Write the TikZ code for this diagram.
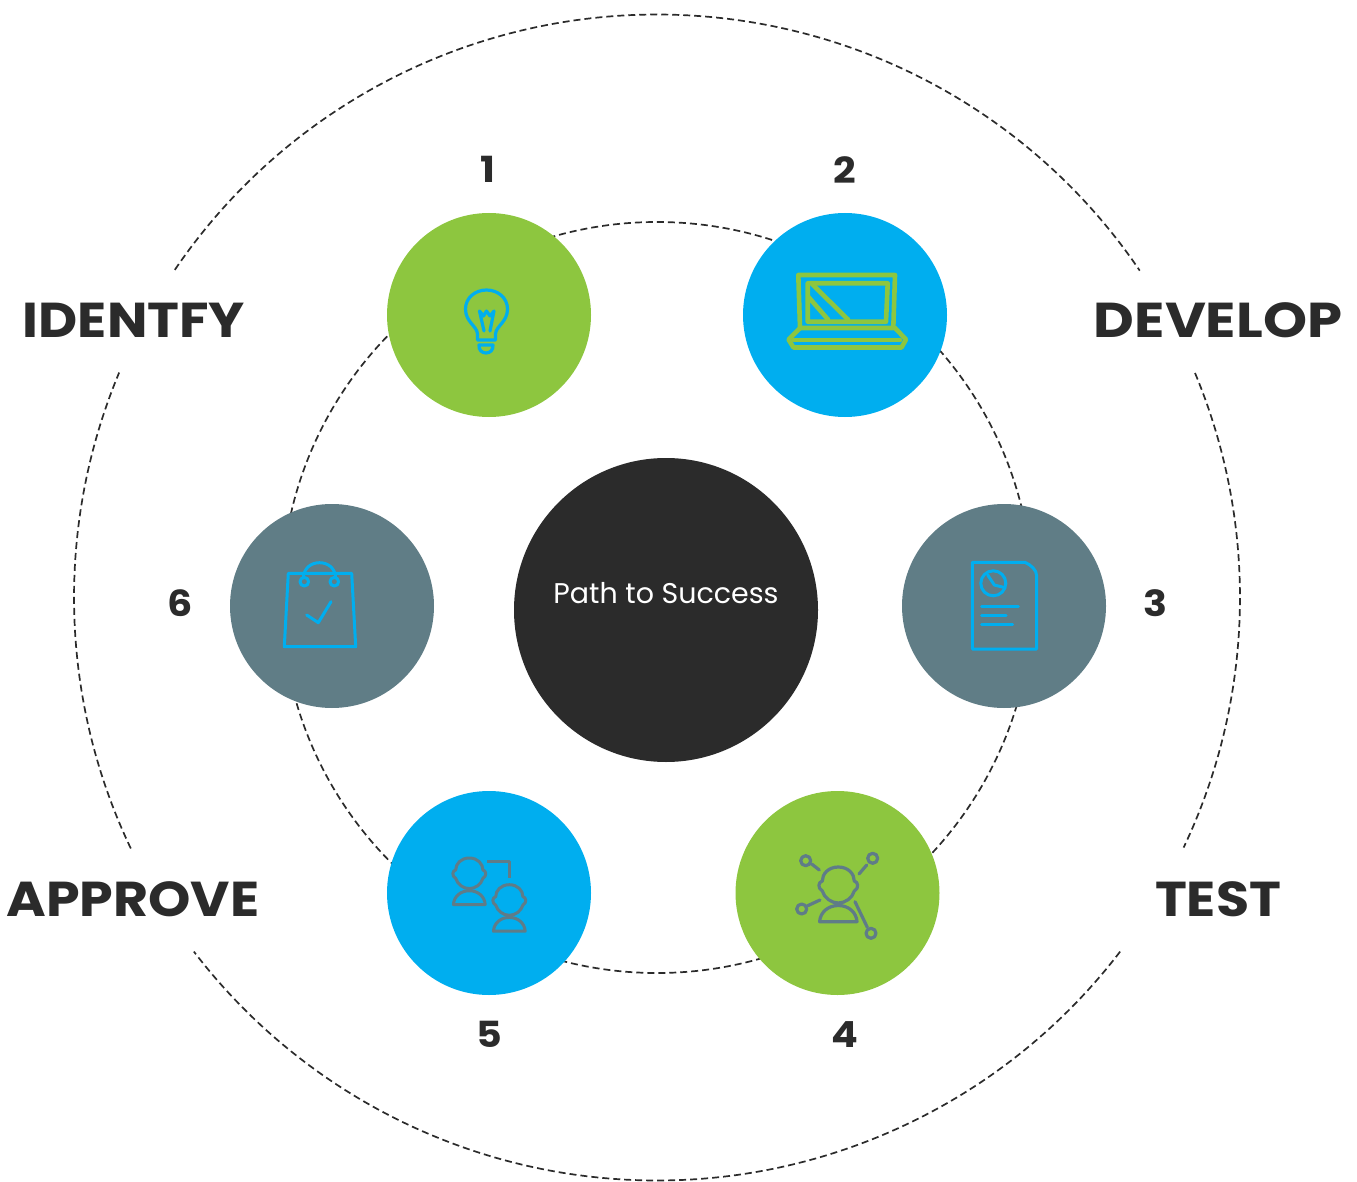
\documentclass[tikz,border=0pt]{standalone}
\usepackage{fontspec}
\setmainfont{Poppins}
\newfontfamily\widefont[FakeStretch=1.1]{Poppins}
\definecolor{cgreen}{HTML}{8DC63F}
\definecolor{cblue}{HTML}{00AEEF}
\definecolor{cslate}{HTML}{607D86}
\definecolor{cdark}{HTML}{2B2B2B}
\definecolor{cicon}{HTML}{5F7C88}
\tikzset{
  ring/.style={draw=cdark,line width=1.7pt,dash pattern=on 7pt off 4pt},
  disc/.style={circle,minimum size=204pt,inner sep=0pt,draw=none},
  phase/.style={anchor=base,inner sep=0pt,text=cdark,font=\widefont\fontsize{49}{49}\selectfont\bfseries},
  num/.style={anchor=base,inner sep=0pt,text=cdark,font=\widefont\fontsize{36}{36}\selectfont\bfseries},
  ico/.style={line width=3pt,line join=round,line cap=round},
  personicon/.pic={
    \draw (0,-18) .. controls (10,-18) and (16,-11) .. (16,-4)
      .. controls (20,-3) and (21,3) .. (16,6)
      .. controls (14,13) and (7,18) .. (0,18)
      .. controls (-7,18) and (-14,13) .. (-16,6)
      .. controls (-21,3) and (-20,-3) .. (-16,-4)
      .. controls (-16,-11) and (-10,-18) .. (0,-18) -- cycle;
    \draw (-18.7,36.7) -- (18.7,36.7) .. controls (18,27) and (10,20.5) .. (0,20.5)
      .. controls (-10,20.5) and (-18,27) .. (-18.7,36.7) -- cycle;
  }
}
\begin{document}
\begin{tikzpicture}[x=1pt,y=-1pt]
\useasboundingbox (0,0) rectangle (1357,1182);
\coordinate (c) at (657,597.5);
% outer dashed ring, broken by the four phase labels
\draw[ring] (c) ++(145.8:583pt) arc[start angle=145.8,end angle=34.1,radius=583pt];
\draw[ring] (c) ++(22.65:583pt) arc[start angle=22.65,end angle=-25.4,radius=583pt];
\draw[ring] (c) ++(-37.4:583pt) arc[start angle=-37.4,end angle=-142.6,radius=583pt];
\draw[ring] (c) ++(205.5:583pt) arc[start angle=205.5,end angle=157.3,radius=583pt];
% inner dashed ring
\draw[ring] (c) circle[radius=375.5pt];
% discs
\node[disc,fill=cgreen] (d1) at (489,315) {};
\node[disc,fill=cblue]  (d2) at (845,315) {};
\node[disc,fill=cslate] (d3) at (1004,606) {};
\node[disc,fill=cgreen] (d4) at (837.5,893) {};
\node[disc,fill=cblue]  (d5) at (489,893) {};
\node[disc,fill=cslate] (d6) at (332,606) {};
\node[circle,minimum size=304pt,inner sep=0pt,fill=cdark] (hub) at (666,610) {};
\node[anchor=base,inner sep=0pt,text=white,font=\fontsize{28.5}{28.5}\selectfont] (hubtext) at (666,603) {Path to Success};
% labels
\node[phase] (identify) at (134,337) {IDENTFY};
\node[phase] (develop) at (1218,337) {\scalebox{1.04}[1]{DEVELOP}};
\node[phase] (approve) at (133,916) {APPROVE};
\node[phase] (test) at (1218,916) {TEST};
\node[num] (n1) at (488,183) {1};
\node[num] (n2) at (845,184) {2};
\node[num] (n3) at (1155,616) {3};
\node[num] (n4) at (845,1047) {4};
\node[num] (n5) at (489,1047) {5};
\node[num] (n6) at (180,616) {6};
% bulb
\begin{scope}[ico,draw=cblue,line width=3.2pt]
\draw (477.5,334) .. controls (477,326) and (465.5,322) .. (465.5,309)
  .. controls (465.5,298) and (475,290) .. (486.5,290)
  .. controls (498,290) and (507.5,298) .. (507.5,309)
  .. controls (507.5,322) and (496,326) .. (495.5,334) -- (495.5,340) -- (477.5,340) -- cycle;
\draw (484,331) -- (479.5,311) -- (483.5,316) -- (486.5,311) -- (490,316) -- (494,311) -- (490,331);
\draw (479,345) -- (493,345) .. controls (493.5,350) and (490,353) .. (486,353)
  .. controls (482,353) and (478.5,350) .. (479,345) -- cycle;
\end{scope}
% laptop
\begin{scope}[ico,draw=cgreen,line width=4.6pt]
\draw (798.3,275) -- (895,275) -- (893.3,328) -- (800,328) -- cycle;
\draw (807.7,283.3) -- (887.7,283.3) -- (886,321.7) -- (807.7,321.7) -- cycle;
\draw (813,285) -- (848,319.5);
\draw (808.5,297) -- (828,319.5);
\draw (800,328) -- (788.5,339.5) -- (793.5,347.5) -- (901.5,347.5) -- (906,339.5) -- (895,328);
\draw (793.5,340) -- (900,340);
\end{scope}
% document
\begin{scope}[ico,draw=cblue]
\draw (972.3,562.3) -- (1025,562.3) .. controls (1031,565) and (1036.7,570) .. (1036.7,576) -- (1036.7,649) -- (972.3,649) -- cycle;
\draw (993.3,583.3) circle[radius=12.5pt];
\draw (987.7,575) -- (994.3,585) -- (1005,587.7);
\draw (981.7,606.7) -- (1018.3,606.7);
\draw (981.7,615.3) -- (1006,615.3);
\draw (981.7,624) -- (1012.7,624);
\end{scope}
% person with links
\begin{scope}[ico,draw=cicon,line width=3.2pt]
\pic at (838.3,885) {personicon};
\draw (805.7,860.7) circle[radius=5pt];
\draw (811.7,864) -- (819.3,870);
\draw (872.7,858.3) circle[radius=5pt];
\draw (866.7,865) -- (859,874);
\draw (801.7,909) circle[radius=5pt];
\draw (807.7,905.7) -- (820,900);
\draw (871,933.3) circle[radius=5pt];
\draw (855,901.7) -- (867.3,927.3);
\end{scope}
% two people
\begin{scope}[ico,draw=cicon]
\pic[scale=.85] at (469.3,873.3) {personicon};
\pic[scale=.85] at (509.3,900) {personicon};
\draw[line cap=butt] (487.3,861.7) -- (509.3,861.7) -- (509.3,878.3);
\end{scope}
% bag
\begin{scope}[ico,draw=cblue]
\draw (288.3,573.3) -- (351.7,573.3) -- (355.7,646.7) -- (284.3,646.7) -- cycle;
\draw (304.3,581.7) circle[radius=4.3pt];
\draw (334.3,581.7) circle[radius=4.3pt];
\draw (303.3,577.7) .. controls (304,568) and (311,562.7) .. (319.5,562.7)
  .. controls (328,562.7) and (335,568) .. (335.7,577.7);
\draw (306.7,615) -- (318.3,622.7) -- (331,601.7);
\end{scope}
\end{tikzpicture}
\end{document}
